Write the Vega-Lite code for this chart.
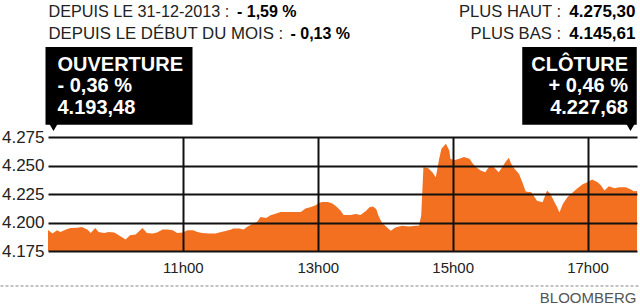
{
  "$schema": "https://vega.github.io/schema/vega-lite/v6.json",
  "padding": {"left": -1, "top": 0, "right": 0, "bottom": 0},
  "config": {"view": {"stroke": null}, "font": "Liberation Sans"},
  "datasets": {
    "prices": [
      {"time": "2014-03-18 09:00", "cac40": 4193.5},
      {"time": "2014-03-18 09:04", "cac40": 4190.3},
      {"time": "2014-03-18 09:08", "cac40": 4193.2},
      {"time": "2014-03-18 09:11", "cac40": 4191.7},
      {"time": "2014-03-18 09:16", "cac40": 4193.8},
      {"time": "2014-03-18 09:20", "cac40": 4195.2},
      {"time": "2014-03-18 09:26", "cac40": 4195.5},
      {"time": "2014-03-18 09:30", "cac40": 4196.1},
      {"time": "2014-03-18 09:35", "cac40": 4193.8},
      {"time": "2014-03-18 09:38", "cac40": 4190.8},
      {"time": "2014-03-18 09:42", "cac40": 4195.2},
      {"time": "2014-03-18 09:45", "cac40": 4191.7},
      {"time": "2014-03-18 09:50", "cac40": 4190.8},
      {"time": "2014-03-18 09:54", "cac40": 4191.7},
      {"time": "2014-03-18 09:59", "cac40": 4191.2},
      {"time": "2014-03-18 10:03", "cac40": 4188.8},
      {"time": "2014-03-18 10:09", "cac40": 4185.0},
      {"time": "2014-03-18 10:13", "cac40": 4188.8},
      {"time": "2014-03-18 10:18", "cac40": 4189.4},
      {"time": "2014-03-18 10:24", "cac40": 4195.2},
      {"time": "2014-03-18 10:28", "cac40": 4190.8},
      {"time": "2014-03-18 10:33", "cac40": 4190.3},
      {"time": "2014-03-18 10:37", "cac40": 4191.2},
      {"time": "2014-03-18 10:42", "cac40": 4193.8},
      {"time": "2014-03-18 10:46", "cac40": 4193.8},
      {"time": "2014-03-18 10:51", "cac40": 4193.2},
      {"time": "2014-03-18 10:55", "cac40": 4190.8},
      {"time": "2014-03-18 11:00", "cac40": 4191.2},
      {"time": "2014-03-18 11:04", "cac40": 4193.2},
      {"time": "2014-03-18 11:09", "cac40": 4193.2},
      {"time": "2014-03-18 11:13", "cac40": 4191.7},
      {"time": "2014-03-18 11:17", "cac40": 4190.8},
      {"time": "2014-03-18 11:23", "cac40": 4190.3},
      {"time": "2014-03-18 11:29", "cac40": 4190.3},
      {"time": "2014-03-18 11:34", "cac40": 4191.7},
      {"time": "2014-03-18 11:38", "cac40": 4192.6},
      {"time": "2014-03-18 11:43", "cac40": 4193.8},
      {"time": "2014-03-18 11:45", "cac40": 4194.7},
      {"time": "2014-03-18 11:50", "cac40": 4194.7},
      {"time": "2014-03-18 11:54", "cac40": 4193.8},
      {"time": "2014-03-18 11:57", "cac40": 4196.1},
      {"time": "2014-03-18 12:02", "cac40": 4199.0},
      {"time": "2014-03-18 12:06", "cac40": 4200.5},
      {"time": "2014-03-18 12:09", "cac40": 4204.8},
      {"time": "2014-03-18 12:14", "cac40": 4204.0},
      {"time": "2014-03-18 12:18", "cac40": 4206.3},
      {"time": "2014-03-18 12:23", "cac40": 4207.8},
      {"time": "2014-03-18 12:27", "cac40": 4209.2},
      {"time": "2014-03-18 12:33", "cac40": 4209.2},
      {"time": "2014-03-18 12:39", "cac40": 4209.2},
      {"time": "2014-03-18 12:45", "cac40": 4209.2},
      {"time": "2014-03-18 12:49", "cac40": 4212.2},
      {"time": "2014-03-18 12:54", "cac40": 4213.6},
      {"time": "2014-03-18 12:58", "cac40": 4215.1},
      {"time": "2014-03-18 13:01", "cac40": 4217.1},
      {"time": "2014-03-18 13:04", "cac40": 4218.0},
      {"time": "2014-03-18 13:09", "cac40": 4218.0},
      {"time": "2014-03-18 13:13", "cac40": 4216.6},
      {"time": "2014-03-18 13:17", "cac40": 4213.6},
      {"time": "2014-03-18 13:20", "cac40": 4210.8},
      {"time": "2014-03-18 13:23", "cac40": 4206.5},
      {"time": "2014-03-18 13:29", "cac40": 4206.5},
      {"time": "2014-03-18 13:34", "cac40": 4207.4},
      {"time": "2014-03-18 13:38", "cac40": 4206.5},
      {"time": "2014-03-18 13:43", "cac40": 4210.3},
      {"time": "2014-03-18 13:46", "cac40": 4213.3},
      {"time": "2014-03-18 13:49", "cac40": 4214.1},
      {"time": "2014-03-18 13:52", "cac40": 4211.8},
      {"time": "2014-03-18 13:54", "cac40": 4205.9},
      {"time": "2014-03-18 13:57", "cac40": 4200.0},
      {"time": "2014-03-18 14:00", "cac40": 4197.1},
      {"time": "2014-03-18 14:05", "cac40": 4192.7},
      {"time": "2014-03-18 14:09", "cac40": 4195.6},
      {"time": "2014-03-18 14:15", "cac40": 4197.1},
      {"time": "2014-03-18 14:21", "cac40": 4196.5},
      {"time": "2014-03-18 14:27", "cac40": 4197.1},
      {"time": "2014-03-18 14:30", "cac40": 4197.1},
      {"time": "2014-03-18 14:32", "cac40": 4205.9},
      {"time": "2014-03-18 14:34", "cac40": 4248.5},
      {"time": "2014-03-18 14:38", "cac40": 4247.7},
      {"time": "2014-03-18 14:42", "cac40": 4244.1},
      {"time": "2014-03-18 14:45", "cac40": 4239.7},
      {"time": "2014-03-18 14:48", "cac40": 4255.9},
      {"time": "2014-03-18 14:50", "cac40": 4264.7},
      {"time": "2014-03-18 14:54", "cac40": 4269.1},
      {"time": "2014-03-18 14:57", "cac40": 4263.2},
      {"time": "2014-03-18 14:58", "cac40": 4255.9},
      {"time": "2014-03-18 15:01", "cac40": 4254.5},
      {"time": "2014-03-18 15:06", "cac40": 4255.9},
      {"time": "2014-03-18 15:10", "cac40": 4257.4},
      {"time": "2014-03-18 15:15", "cac40": 4255.9},
      {"time": "2014-03-18 15:18", "cac40": 4251.5},
      {"time": "2014-03-18 15:21", "cac40": 4248.5},
      {"time": "2014-03-18 15:25", "cac40": 4245.6},
      {"time": "2014-03-18 15:29", "cac40": 4244.1},
      {"time": "2014-03-18 15:32", "cac40": 4248.5},
      {"time": "2014-03-18 15:35", "cac40": 4250.0},
      {"time": "2014-03-18 15:38", "cac40": 4247.1},
      {"time": "2014-03-18 15:41", "cac40": 4244.1},
      {"time": "2014-03-18 15:44", "cac40": 4248.5},
      {"time": "2014-03-18 15:47", "cac40": 4253.0},
      {"time": "2014-03-18 15:50", "cac40": 4256.8},
      {"time": "2014-03-18 15:52", "cac40": 4251.5},
      {"time": "2014-03-18 15:55", "cac40": 4247.1},
      {"time": "2014-03-18 15:59", "cac40": 4242.7},
      {"time": "2014-03-18 16:02", "cac40": 4235.3},
      {"time": "2014-03-18 16:05", "cac40": 4227.1},
      {"time": "2014-03-18 16:10", "cac40": 4226.5},
      {"time": "2014-03-18 16:12", "cac40": 4223.6},
      {"time": "2014-03-18 16:15", "cac40": 4219.1},
      {"time": "2014-03-18 16:20", "cac40": 4217.7},
      {"time": "2014-03-18 16:24", "cac40": 4228.0},
      {"time": "2014-03-18 16:27", "cac40": 4225.0},
      {"time": "2014-03-18 16:30", "cac40": 4219.1},
      {"time": "2014-03-18 16:33", "cac40": 4213.3},
      {"time": "2014-03-18 16:35", "cac40": 4208.8},
      {"time": "2014-03-18 16:38", "cac40": 4216.2},
      {"time": "2014-03-18 16:42", "cac40": 4222.1},
      {"time": "2014-03-18 16:47", "cac40": 4226.5},
      {"time": "2014-03-18 16:51", "cac40": 4230.0},
      {"time": "2014-03-18 16:56", "cac40": 4233.8},
      {"time": "2014-03-18 17:00", "cac40": 4235.3},
      {"time": "2014-03-18 17:04", "cac40": 4237.7},
      {"time": "2014-03-18 17:09", "cac40": 4235.3},
      {"time": "2014-03-18 17:12", "cac40": 4232.4},
      {"time": "2014-03-18 17:15", "cac40": 4228.0},
      {"time": "2014-03-18 17:19", "cac40": 4231.8},
      {"time": "2014-03-18 17:24", "cac40": 4230.0},
      {"time": "2014-03-18 17:28", "cac40": 4230.9},
      {"time": "2014-03-18 17:34", "cac40": 4230.9},
      {"time": "2014-03-18 17:39", "cac40": 4228.8},
      {"time": "2014-03-18 17:41", "cac40": 4227.4},
      {"time": "2014-03-18 17:44", "cac40": 4227.7}
    ],
    "header": [
      {"side": "left", "line": 1, "label": "DEPUIS LE 31-12-2013 :", "value": "- 1,59 %"},
      {"side": "left", "line": 2, "label": "DEPUIS LE DÉBUT DU MOIS :", "value": "- 0,13 %"},
      {"side": "right", "line": 1, "label": "PLUS HAUT :", "value": "4.275,30"},
      {"side": "right", "line": 2, "label": "PLUS BAS :", "value": "4.145,61"}
    ],
    "boxlines": [
      {"box": "open", "line": 3.5, "text": "OUVERTURE"},
      {"box": "open", "line": 4.5, "text": " - 0,36 %"},
      {"box": "open", "line": 5.5, "text": "4.193,48"},
      {"box": "close", "line": 3.5, "text": "CLÔTURE"},
      {"box": "close", "line": 4.5, "text": "+ 0,46 %"},
      {"box": "close", "line": 5.5, "text": "4.227,68"}
    ],
    "footer": [
      {"item": "separator", "text": "", "session_open": "2014-03-18 09:00", "session_close": "2014-03-18 17:44"},
      {"item": "source", "text": "BLOOMBERG", "session_open": "2014-03-18 09:00", "session_close": "2014-03-18 17:44"}
    ]
  },
  "bounds": "flush",
  "spacing": 0,
  "resolve": {"scale": {"x": "shared"}},
  "vconcat": [
    {
      "width": 589,
      "height": 137,
      "layer": [
        {
          "data": {"name": "boxlines"},
          "transform": [{"filter": "datum.box === 'open' && datum.line === 3.5"}],
          "mark": {"type": "rect", "color": "#000000", "width": 147, "xOffset": 71},
          "encoding": {
            "x": {"datum": {"year": 2014, "month": 3, "date": 18, "hours": 9, "minutes": 0}, "type": "temporal", "axis": null},
            "y": {"datum": 2.386, "type": "quantitative", "scale": {"domain": [0.2, 6.572], "reverse": true, "nice": false, "zero": false}, "axis": null},
            "y2": {"datum": 6.0}
          }
        },
        {
          "data": {"name": "boxlines"},
          "transform": [{"filter": "datum.box === 'close' && datum.line === 3.5"}],
          "mark": {"type": "rect", "color": "#000000", "width": 114.5, "xOffset": -57.5},
          "encoding": {
            "x": {"datum": {"year": 2014, "month": 3, "date": 18, "hours": 17, "minutes": 44}, "type": "temporal", "axis": null},
            "y": {"datum": 2.386, "type": "quantitative", "axis": null},
            "y2": {"datum": 6.0}
          }
        },
        {
          "data": {"name": "boxlines"},
          "transform": [{"filter": "datum.box === 'open' && datum.line === 3.5"}],
          "mark": {"type": "point", "shape": "triangle-down", "filled": true, "color": "#000000", "opacity": 1, "size": 110, "xOffset": 5.5},
          "encoding": {
            "x": {"datum": {"year": 2014, "month": 3, "date": 18, "hours": 9, "minutes": 0}, "type": "temporal", "axis": null},
            "y": {"datum": 6.08, "type": "quantitative", "axis": null}
          }
        },
        {
          "data": {"name": "boxlines"},
          "transform": [{"filter": "datum.box === 'close' && datum.line === 3.5"}],
          "mark": {"type": "point", "shape": "triangle-down", "filled": true, "color": "#000000", "opacity": 1, "size": 110, "xOffset": -6.5},
          "encoding": {
            "x": {"datum": {"year": 2014, "month": 3, "date": 18, "hours": 17, "minutes": 44}, "type": "temporal", "axis": null},
            "y": {"datum": 6.08, "type": "quantitative", "axis": null}
          }
        },
        {
          "data": {"name": "boxlines"},
          "transform": [{"filter": "datum.box === 'open'"}],
          "mark": {"type": "text", "align": "left", "baseline": "alphabetic", "dx": 9.5, "fontSize": 20, "fontWeight": "bold", "color": "#ffffff"},
          "encoding": {
            "x": {"datum": {"year": 2014, "month": 3, "date": 18, "hours": 9, "minutes": 0}, "type": "temporal", "axis": null},
            "y": {"field": "line", "type": "quantitative", "axis": null},
            "text": {"field": "text"}
          }
        },
        {
          "data": {"name": "boxlines"},
          "transform": [{"filter": "datum.box === 'close'"}],
          "mark": {"type": "text", "align": "right", "baseline": "alphabetic", "dx": -9, "fontSize": 20, "fontWeight": "bold", "color": "#ffffff"},
          "encoding": {
            "x": {"datum": {"year": 2014, "month": 3, "date": 18, "hours": 17, "minutes": 44}, "type": "temporal", "axis": null},
            "y": {"field": "line", "type": "quantitative", "axis": null},
            "text": {"field": "text"}
          }
        },
        {
          "data": {"name": "header"},
          "transform": [{"filter": "datum.side === 'left' && datum.line === 1"}],
          "mark": {"type": "text", "align": "left", "baseline": "alphabetic", "dx": 0.5, "fontSize": 16.2, "color": "#222222"},
          "encoding": {
            "x": {"datum": {"year": 2014, "month": 3, "date": 18, "hours": 9, "minutes": 0}, "type": "temporal", "axis": null},
            "y": {"field": "line", "type": "quantitative", "axis": null},
            "text": {"field": "label"}
          }
        },
        {
          "data": {"name": "header"},
          "transform": [{"filter": "datum.side === 'left' && datum.line === 2"}],
          "mark": {"type": "text", "align": "left", "baseline": "alphabetic", "dx": 0.5, "fontSize": 16.8, "color": "#222222"},
          "encoding": {
            "x": {"datum": {"year": 2014, "month": 3, "date": 18, "hours": 9, "minutes": 0}, "type": "temporal", "axis": null},
            "y": {"field": "line", "type": "quantitative", "axis": null},
            "text": {"field": "label"}
          }
        },
        {
          "data": {"name": "header"},
          "transform": [{"filter": "datum.side === 'left' && datum.line === 1"}],
          "mark": {"type": "text", "align": "left", "baseline": "alphabetic", "dx": 189, "fontSize": 16, "fontWeight": "bold", "color": "#000000"},
          "encoding": {
            "x": {"datum": {"year": 2014, "month": 3, "date": 18, "hours": 9, "minutes": 0}, "type": "temporal", "axis": null},
            "y": {"field": "line", "type": "quantitative", "axis": null},
            "text": {"field": "value"}
          }
        },
        {
          "data": {"name": "header"},
          "transform": [{"filter": "datum.side === 'left' && datum.line === 2"}],
          "mark": {"type": "text", "align": "left", "baseline": "alphabetic", "dx": 242.5, "fontSize": 16, "fontWeight": "bold", "color": "#000000"},
          "encoding": {
            "x": {"datum": {"year": 2014, "month": 3, "date": 18, "hours": 9, "minutes": 0}, "type": "temporal", "axis": null},
            "y": {"field": "line", "type": "quantitative", "axis": null},
            "text": {"field": "value"}
          }
        },
        {
          "data": {"name": "header"},
          "transform": [{"filter": "datum.side === 'right'"}],
          "mark": {"type": "text", "align": "right", "baseline": "alphabetic", "dx": -1.5, "fontSize": 17, "fontWeight": "bold", "color": "#000000"},
          "encoding": {
            "x": {"datum": {"year": 2014, "month": 3, "date": 18, "hours": 17, "minutes": 44}, "type": "temporal", "axis": null},
            "y": {"field": "line", "type": "quantitative", "axis": null},
            "text": {"field": "value"}
          }
        },
        {
          "data": {"name": "header"},
          "transform": [{"filter": "datum.side === 'right'"}],
          "mark": {"type": "text", "align": "right", "baseline": "alphabetic", "dx": -76, "fontSize": 16.6, "color": "#222222"},
          "encoding": {
            "x": {"datum": {"year": 2014, "month": 3, "date": 18, "hours": 17, "minutes": 44}, "type": "temporal", "axis": null},
            "y": {"field": "line", "type": "quantitative", "axis": null},
            "text": {"field": "label"}
          }
        }
      ]
    },
    {
      "bounds": "flush",
      "spacing": 35,
      "resolve": {"scale": {"x": "shared"}},
      "vconcat": [
        {
          "width": 589,
          "height": 114,
          "data": {"name": "prices"},
          "mark": {"type": "area", "color": "#F37021", "opacity": 1},
          "encoding": {
            "x": {
              "field": "time",
              "type": "temporal",
              "scale": {"domain": [{"year": 2014, "month": 3, "date": 18, "hours": 9, "minutes": 0}, {"year": 2014, "month": 3, "date": 18, "hours": 17, "minutes": 44}], "nice": false},
              "axis": {
                "values": [
                  {"year": 2014, "month": 3, "date": 18, "hours": 11, "minutes": 0},
                  {"year": 2014, "month": 3, "date": 18, "hours": 13, "minutes": 0},
                  {"year": 2014, "month": 3, "date": 18, "hours": 15, "minutes": 0},
                  {"year": 2014, "month": 3, "date": 18, "hours": 17, "minutes": 0}
                ],
                "format": "%Hh%M",
                "grid": true,
                "gridColor": "#111111",
                "gridWidth": 2,
                "gridOpacity": 1,
                "domain": false,
                "ticks": false,
                "labelFontSize": 15,
                "labelColor": "#222222",
                "labelPadding": 9,
                "title": null,
                "zindex": 1
              }
            },
            "y": {
              "field": "cac40",
              "type": "quantitative",
              "scale": {"domain": [4175, 4275], "zero": false, "nice": false},
              "axis": {
                "values": [4175, 4200, 4225, 4250, 4275],
                "labelExpr": "replace(format(datum.value, ','), ',', '.')",
                "grid": true,
                "gridColor": "#111111",
                "gridWidth": 2,
                "gridOpacity": 1,
                "domain": false,
                "ticks": false,
                "labelFontSize": 17,
                "labelColor": "#222222",
                "labelPadding": 4,
                "title": null,
                "zindex": 1
              }
            },
            "y2": {"datum": 4175}
          }
        },
        {
          "width": 589,
          "height": 17,
          "data": {"name": "footer"},
          "layer": [
            {
              "transform": [{"filter": "datum.item === 'separator'"}],
              "mark": {"type": "rule", "stroke": "#888888", "strokeDash": [3, 2], "strokeWidth": 1.2, "opacity": 1, "xOffset": -47.5, "x2Offset": 3.5},
              "encoding": {
                "x": {"field": "session_open", "type": "temporal", "axis": null},
                "x2": {"field": "session_close"},
                "y": {"datum": 1, "type": "quantitative", "scale": {"domain": [0, 1]}, "axis": null}
              }
            },
            {
              "transform": [{"filter": "datum.item === 'source'"}],
              "mark": {"type": "text", "align": "right", "baseline": "alphabetic", "fontSize": 15, "color": "#555555", "dx": -0.5},
              "encoding": {
                "x": {"field": "session_close", "type": "temporal", "axis": null},
                "y": {"datum": 0, "type": "quantitative", "axis": null},
                "text": {"field": "text"}
              }
            }
          ]
        }
      ]
    }
  ]
}
